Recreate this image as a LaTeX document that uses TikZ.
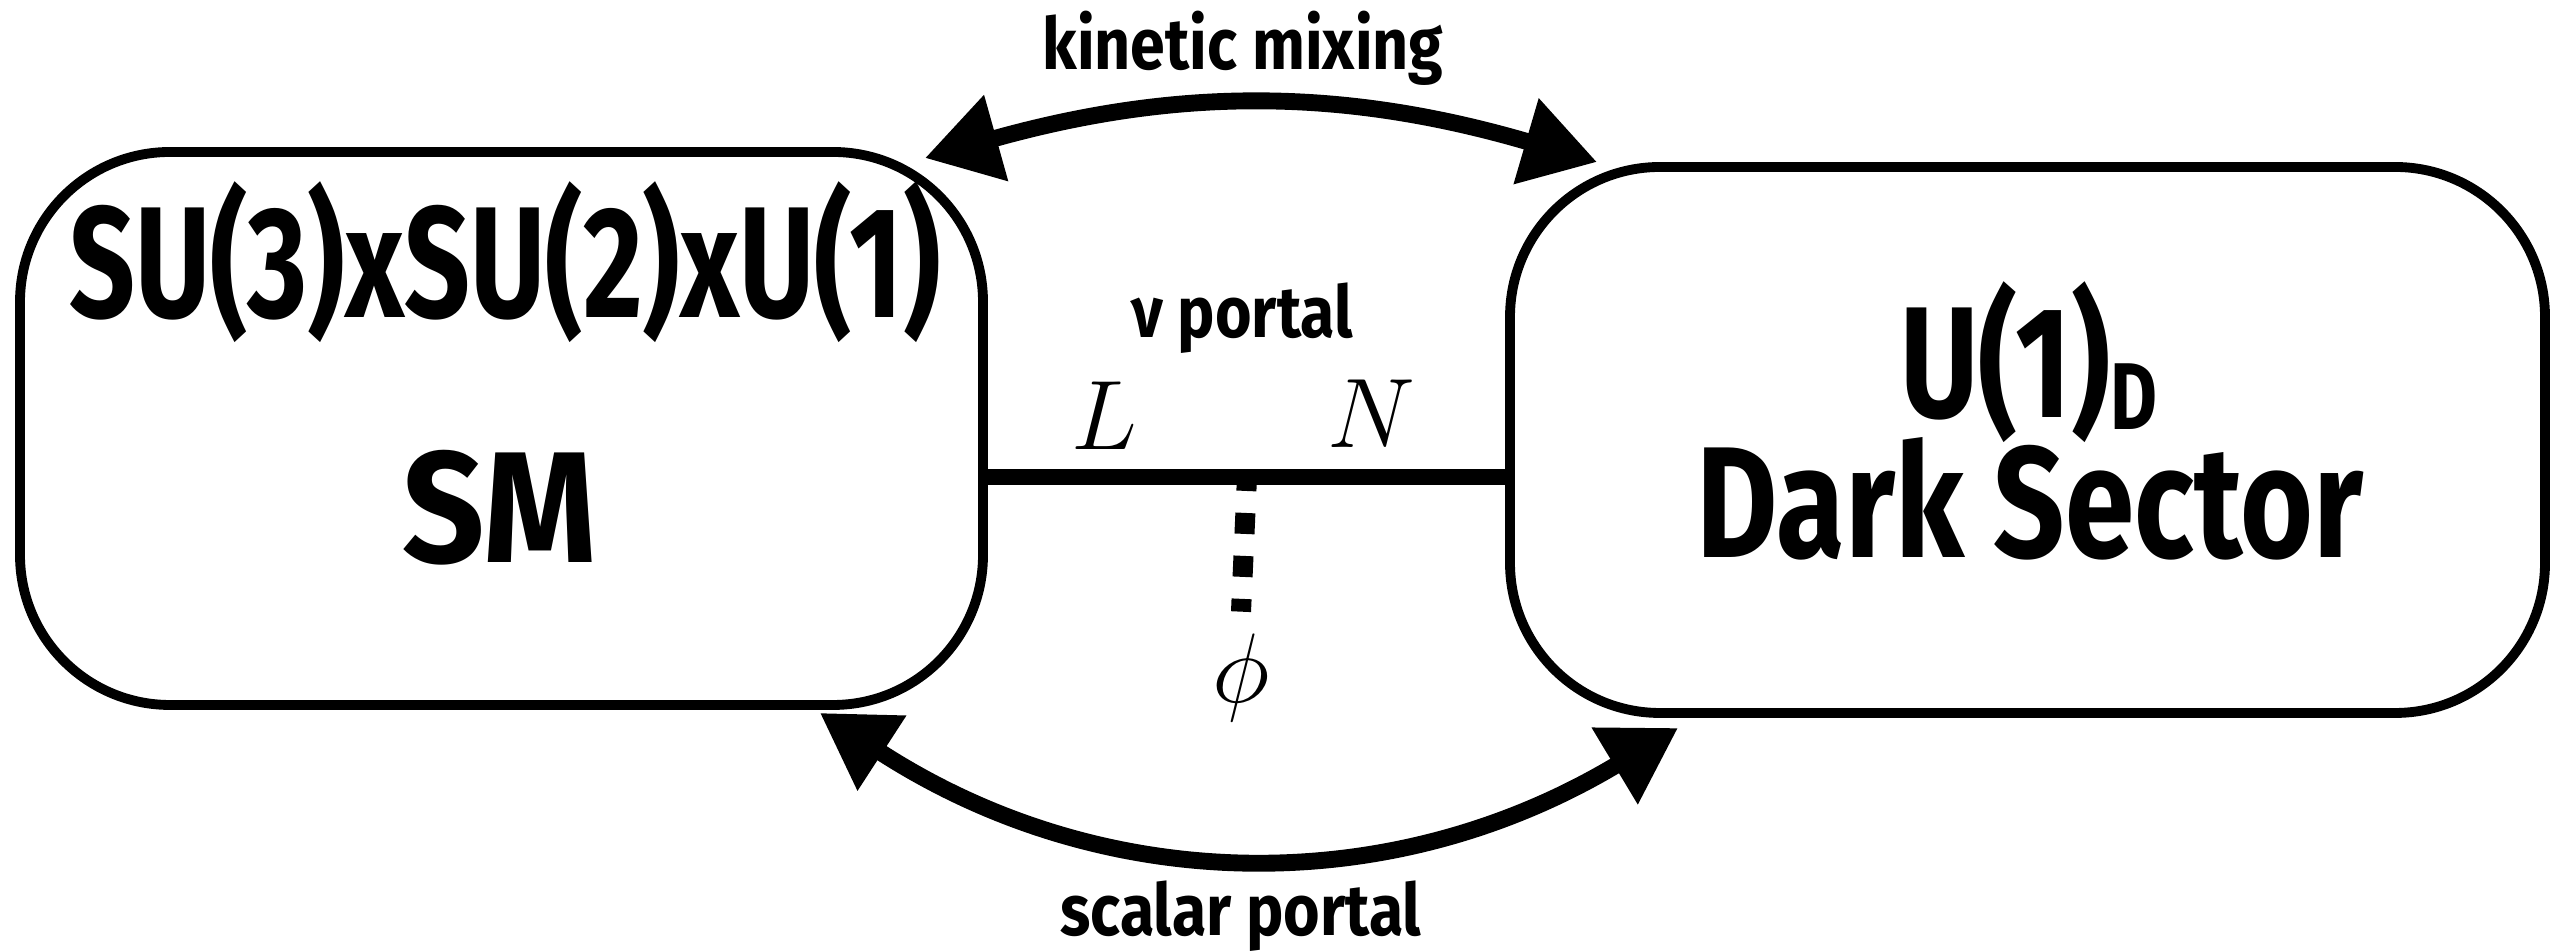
\documentclass[tikz,border=0pt]{standalone}
\usepackage{fontspec}
\newfontfamily\sketchfont[FakeStretch=0.76]{Fira Sans}
\newfontfamily\labelfont[FakeStretch=0.87]{Fira Sans}
\usepackage{tikz}
\usetikzlibrary{arrows.meta,positioning}
\newcommand{\bigmath}[1]{\scalebox{1.13}{$#1$}}

\begin{document}
\begin{tikzpicture}[
  sector/.style={draw, line width=2.8pt, rounded corners=1.5cm, inner sep=0pt},
  bigtxt/.style={font=\sketchfont\bfseries\fontsize{45}{50}\selectfont, inner sep=0pt, anchor=base},
  smalltxt/.style={font=\labelfont\bfseries\fontsize{20.5}{24}\selectfont, inner sep=0pt, anchor=base},
  mathtxt/.style={font=\Huge, inner sep=0pt, anchor=base},
  portal/.style={line width=4.8pt, {Triangle[length=7.4mm,width=8.5mm]}-{Triangle[length=7.4mm,width=8.5mm]}}
]
\useasboundingbox (0,0) rectangle (25.63,9.51);

\node[sector, minimum width=9.63cm, minimum height=5.53cm] (sm) at (5.015,5.225) {};
\node[sector, minimum width=10.35cm, minimum height=5.46cm] (ds) at (20.275,5.11) {};

\node[bigtxt] (gauge) at (5.05,6.33) {\scalebox{0.96}[1]{SU(3)xSU(2)xU(1)}};
\node[bigtxt] (smname) at (5.0,3.88) {\scalebox{1.2}[1]{SM}};
\node[bigtxt] (u1d) at (20.29,5.33) {U(1)\raisebox{-1.2mm}{\fontsize{27}{30}\selectfont D}};
\node[bigtxt] (dsname) at (20.30,3.93) {\scalebox{1.04}[1]{Dark Sector}};

\node[smalltxt] (kin) at (12.43,8.81) {kinetic mixing};
\node[smalltxt] (nu) at (12.42,6.13) {ν portal};
\node[smalltxt] (scal) at (12.41,0.15) {scalar portal};

\node[mathtxt] (lep) at (11.04,5.01) {\bigmath{L}};
\node[mathtxt] (neu) at (13.71,5.03) {\bigmath{N}};
\node[mathtxt, inner ysep=2.2mm] (phi) at (12.41,2.48) {\bigmath{\phi}};

\coordinate (vtx) at (12.47,4.74);
\draw[line width=4.3pt] (sm.east |- vtx) -- (ds.west |- vtx);
\draw[line width=5.7pt, dash pattern=on 2.1mm off 2.2mm, dash phase=0.7mm] (vtx) -- (phi.north);

\draw[portal] ([xshift=-6.3mm,yshift=-1.1mm]sm.north east) to[bend left=16] ([xshift=9.2mm]ds.north west);
\draw[portal] ([xshift=-16.8mm,yshift=-0.3mm]sm.south east) to[bend right=32] ([xshift=17.3mm,yshift=-1mm]ds.south west);

\end{tikzpicture}
\end{document}
